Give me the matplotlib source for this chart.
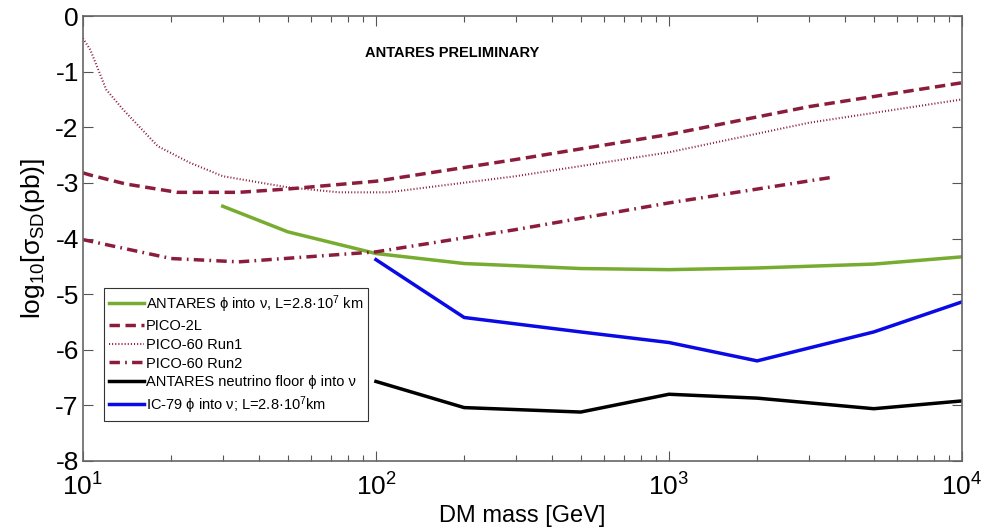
import matplotlib
matplotlib.use("Agg")
import matplotlib.pyplot as plt
from matplotlib.ticker import LogLocator, NullFormatter

plt.rcParams['font.family'] = ['Liberation Sans', 'DejaVu Sans']
plt.rcParams['mathtext.fontset'] = 'custom'
plt.rcParams['mathtext.rm'] = 'Liberation Sans'
plt.rcParams['mathtext.it'] = 'Liberation Sans:italic'
plt.rcParams['mathtext.bf'] = 'Liberation Sans:bold'

# ---- data (log10 of cross section in pb vs DM mass in GeV) ----
antares_m = [30, 50, 100, 200, 500, 1000, 2000, 5000, 10000]
antares_v = [-3.42, -3.88, -4.27, -4.45, -4.54, -4.56, -4.53, -4.46, -4.33]

pico2l_m = [10, 10.6, 14, 21, 34, 50, 100, 300, 1000, 3000, 10000]
pico2l_v = [-2.82, -2.86, -3.02, -3.17, -3.17, -3.11, -2.97, -2.58, -2.13, -1.63, -1.2]

run1_m = [10, 10.6, 12, 13.7, 18, 23, 30, 50, 75, 110, 300, 1000, 3000, 10000]
run1_v = [-0.4, -0.61, -1.32, -1.68, -2.34, -2.63, -2.88, -3.08, -3.17, -3.17, -2.88, -2.45, -1.92, -1.5]

run2_m = [10, 20, 34, 100, 300, 1000, 3600]
run2_v = [-4.02, -4.36, -4.42, -4.24, -3.84, -3.36, -2.9]

floor_m = [100, 200, 500, 1000, 2000, 5000, 10000]
floor_v = [-6.57, -7.04, -7.12, -6.8, -6.87, -7.06, -6.92]

ic79_m = [100, 200, 500, 1000, 2000, 5000, 10000]
ic79_v = [-4.38, -5.42, -5.68, -5.87, -6.2, -5.68, -5.14]

yticks = [0, -1, -2, -3, -4, -5, -6, -7, -8]
xticks = [10, 100, 1000, 10000]
xticklabels = ['$10^{1}$', '$10^{2}$', '$10^{3}$', '$10^{4}$']

red = '#8c1c3c'

fig = plt.figure(figsize=(9.84, 5.30), dpi=100)
ax = fig.add_axes([0.0843, 0.1302, 0.8933, 0.8396])

ax.plot(antares_m, antares_v, color='#77ac30', lw=2.5,
        label='ANTARES ϕ into ν, L=2.8·10$^{7}$ km')
ax.plot(pico2l_m, pico2l_v, color=red, lw=2.5, ls=(0, (3, 1.6)), label='PICO-2L')
ax.plot(run1_m, run1_v, color=red, lw=1.5, ls=(0, (0.5, 1.0)), label='PICO-60 Run1')
ax.plot(run2_m, run2_v, color=red, lw=2.5, ls=(0, (3, 1.5, 0.5, 1.5)), label='PICO-60 Run2')
ax.plot(floor_m, floor_v, color='black', lw=2.5,
        label='ANTARES neutrino floor ϕ into ν')
ax.plot(ic79_m, ic79_v, color='#0a0ae6', lw=2.5,
        label='IC-79 ϕ into ν; L=2.8·10$^{7}$km')

ax.set_xscale('log')
ax.set_xlim(10, 10000)
ax.set_ylim(-8, 0)
ax.set_xticks(xticks)
ax.set_xticklabels(xticklabels)
ax.xaxis.set_minor_locator(LogLocator(base=10, subs=range(2, 10)))
ax.xaxis.set_minor_formatter(NullFormatter())
ax.set_yticks(yticks)
ax.set_yticklabels([str(v) for v in yticks])

ax.tick_params(which='both', direction='in', top=True, right=True, labelsize=19)
ax.tick_params(which='major', length=7, width=0.8, color='#555555')
ax.tick_params(which='minor', length=4, width=0.8, color='#555555')
ax.tick_params(axis='x', pad=9)
ax.tick_params(axis='y', pad=3)
for s in ax.spines.values():
    s.set_color('#666666')
    s.set_linewidth(1.2)

ax.set_xlabel('DM mass [GeV]', fontsize=17)
ax.xaxis.set_label_coords(0.5, -0.099)
ax.set_ylabel('log$_{10}$[σ$_{\\rm SD}$(pb)]', fontsize=19, labelpad=6)

ax.text(0.42, 0.917, 'ANTARES PRELIMINARY', transform=ax.transAxes,
        fontsize=10.5, fontweight='bold', ha='center', va='center')

leg = ax.legend(loc='upper left', bbox_to_anchor=(0.024, 0.389), borderaxespad=0,
                fontsize=10.5, frameon=True, fancybox=False, handlelength=2.4,
                handletextpad=0.1, labelspacing=0.32, borderpad=0.35)
leg.get_frame().set_edgecolor('black')
leg.get_frame().set_linewidth(0.8)

fig.savefig('out.png', dpi=100)
